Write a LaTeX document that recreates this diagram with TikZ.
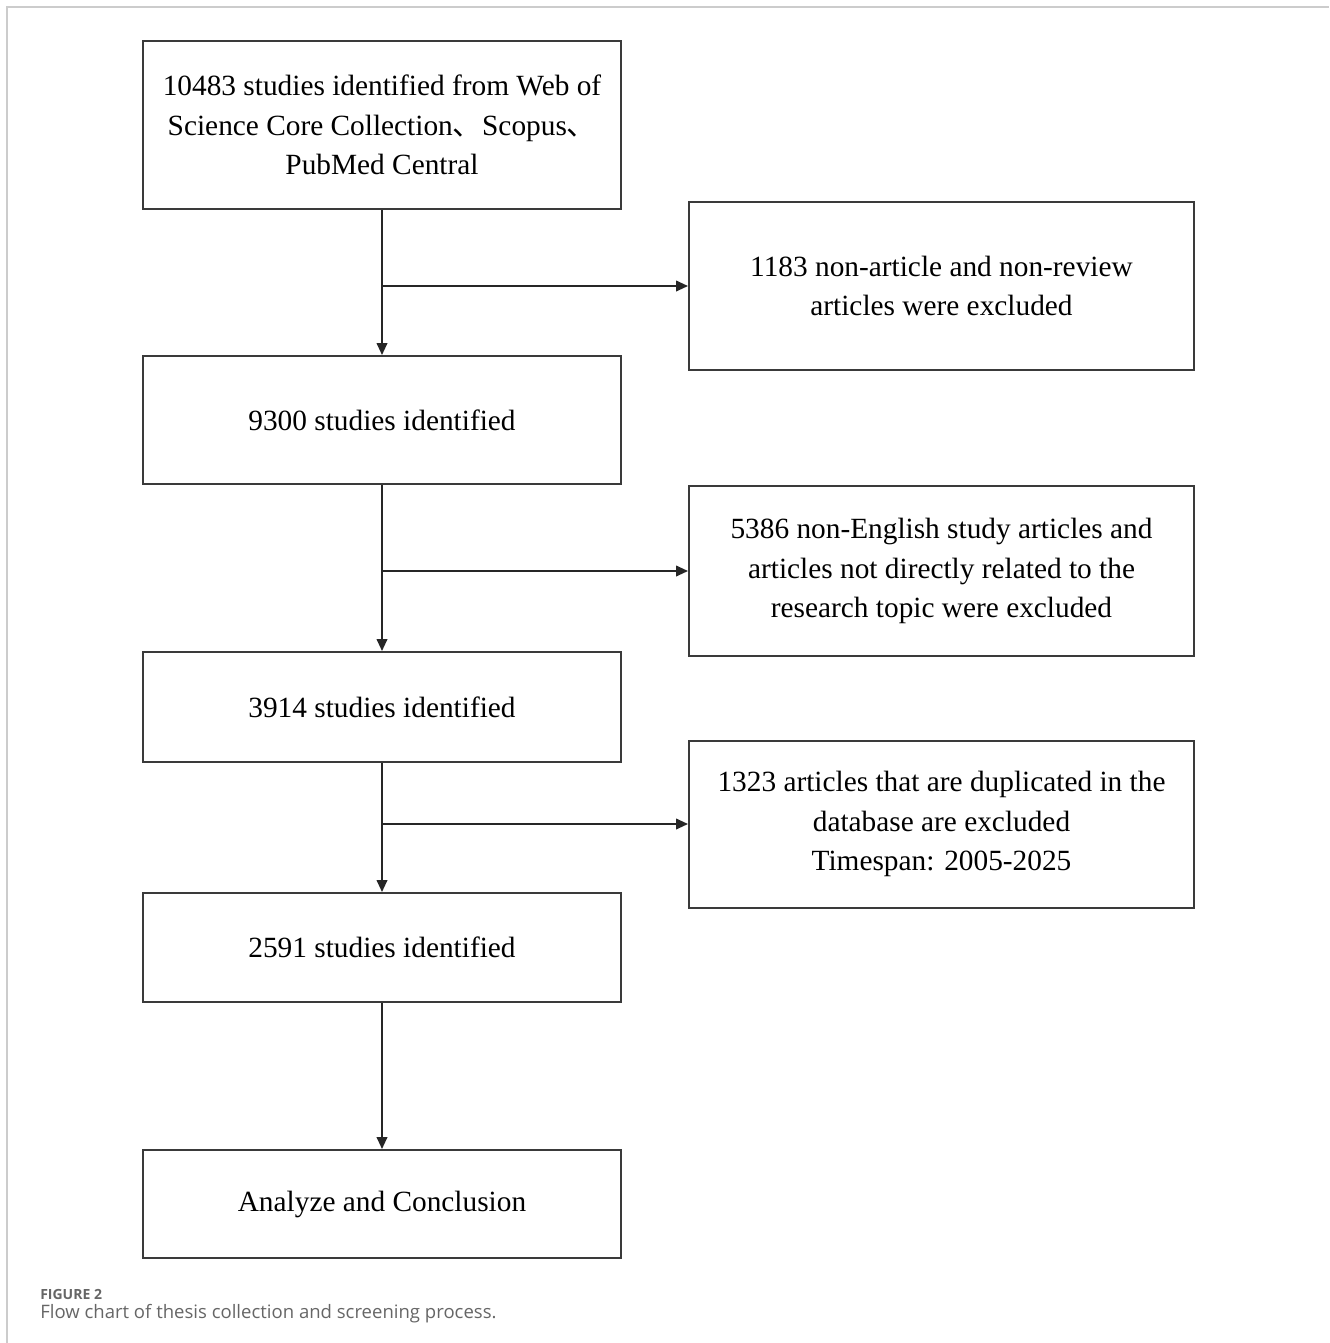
\documentclass[tikz,border=0pt]{standalone}
\usepackage{fontspec}
\setmainfont{Liberation Serif}
\newfontfamily\capfont{Open Sans}
\newfontfamily\cjk{Noto Sans CJK SC}
\usetikzlibrary{arrows.meta}
\definecolor{boxline}{HTML}{3A3A3A}
\definecolor{framegray}{HTML}{CCCCCC}
\definecolor{capgray}{HTML}{666666}
\begin{document}
\begin{tikzpicture}[x=0.75pt,y=-0.75pt,
  flowbox/.style={draw=boxline,line width=1.5pt,align=center,inner sep=0pt,
    font=\fontsize{22}{29.5}\selectfont},
  flowarrow/.style={draw=black!85,line width=1.4pt,-{Triangle[length=9pt,width=8pt]}}]
\useasboundingbox (0,0) rectangle (1329,1343);
\draw[framegray,line width=1pt] (7,1343) -- (7,7) -- (1329,7);
% main column
\node[flowbox,minimum width=478*0.75pt,minimum height=168*0.75pt] (A) at (382,125)
  {10483 studies identified from Web of\\Science Core Collection{\cjk 、}Scopus{\cjk 、}\\PubMed Central};
\node[flowbox,minimum width=478*0.75pt,minimum height=128*0.75pt] (B) at (382,420)
  {9300 studies identified};
\node[flowbox,minimum width=478*0.75pt,minimum height=110*0.75pt] (C) at (382,707)
  {3914 studies identified};
\node[flowbox,minimum width=478*0.75pt,minimum height=109*0.75pt] (D) at (382,947.5)
  {2591 studies identified};
\node[flowbox,minimum width=478*0.75pt,minimum height=108*0.75pt] (E) at (382,1204)
  {Analyze and Conclusion};
% side boxes
\node[flowbox,minimum width=505*0.75pt,minimum height=168*0.75pt] (R1) at (941.5,286)
  {1183 non-article and non-review\\articles were excluded};
\node[flowbox,minimum width=505*0.75pt,minimum height=170*0.75pt] (R2) at (941.5,571)
  {5386 non-English study articles and\\articles not directly related to the\\research topic were excluded};
\node[flowbox,minimum width=505*0.75pt,minimum height=167*0.75pt] (R3) at (941.5,824)
  {1323 articles that are duplicated in the\\database are excluded\\Timespan: 2005-2025};
% connectors
\draw[flowarrow] (A.south) -- (B.north);
\draw[flowarrow] (B.south) -- (C.north);
\draw[flowarrow] (C.south) -- (D.north);
\draw[flowarrow] (D.south) -- (E.north);
\coordinate (b1) at (A.south |- R1.west);
\coordinate (b2) at (B.south |- R2.west);
\coordinate (b3) at (C.south |- R3.west);
\draw[flowarrow] (b1) -- (R1.west);
\draw[flowarrow] (b2) -- (R2.west);
\draw[flowarrow] (b3) -- (R3.west);
% caption
\node[anchor=base west,inner sep=0pt,text=capgray,font=\capfont\bfseries\fontsize{10.5}{12}\selectfont] (cap1) at (40,1299) {FIGURE 2};
\node[anchor=base west,inner sep=0pt,text=capgray,font=\capfont\fontsize{13.9}{15}\selectfont] (cap2) at (40,1318) {Flow chart of thesis collection and screening process.};
\end{tikzpicture}
\end{document}
